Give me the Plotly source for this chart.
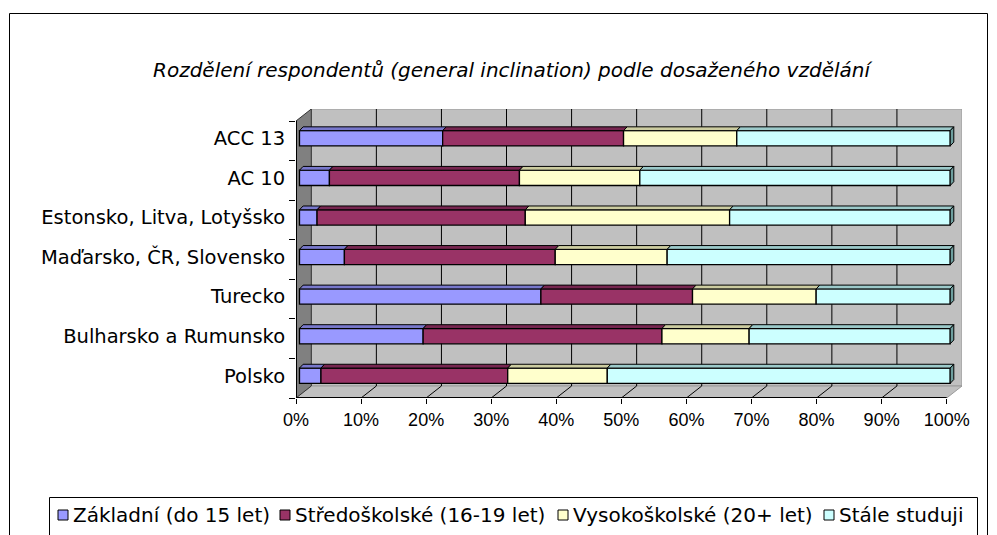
import plotly.graph_objects as go

# ---------------- data ----------------
categories = ["ACC 13", "AC 10", "Estonsko, Litva, Lotyšsko", "Maďarsko, ČR, Slovensko",
              "Turecko", "Bulharsko a Rumunsko", "Polsko"]
series_names = ["Základní (do 15 let)", "Středoškolské (16-19 let)",
                "Vysokoškolské (20+ let)", "Stále studuji"]
zakladni = [22.0, 4.6, 2.7, 6.9, 37.1, 19.0, 3.3]
stredoskolske = [27.8, 29.2, 32.0, 32.4, 23.3, 36.7, 28.7]
vysokoskolske = [17.4, 18.5, 31.4, 17.2, 19.0, 13.4, 15.3]
stale_studuji = [32.8, 47.7, 33.9, 43.5, 20.6, 30.9, 52.7]
tick_values = [0, 10, 20, 30, 40, 50, 60, 70, 80, 90, 100]
tick_labels = [f"{v}%" for v in tick_values]
title_text = "Rozdělení respondentů (general inclination) podle dosaženého vzdělání"

series_values = [zakladni, stredoskolske, vysokoskolske, stale_studuji]
front_colors = ["#9999FF", "#993366", "#FFFFCC", "#CCFFFF"]
top_colors = ["#7878CC", "#772650", "#CCCCA0", "#9CCACA"]
side_color = "#6E9E9E"

FONT = "DejaVu Sans, sans-serif"
TICKFONT = "Liberation Sans, Arial, sans-serif"

# page body has an 8px margin: work in reference pixels and shift
OFF = 8
W, H = 997 - OFF, 535 - OFF
L_REF, R_REF, T_REF, B_REF = 296, 962, 109, 398
L_PX, R_PX, T_PX, B_PX = L_REF - OFF, R_REF - OFF, T_REF - OFF, B_REF - OFF

n = len(categories)
ypos = [n - 1 - k for k in range(n)]

# 3-D geometry (in data units)
XPX = 6.507            # px per percent
YPX = 39.57            # px per category
DX = (R_REF - (L_REF + 100 * XPX)) / XPX
DY = 12 / YPX
BX = 3.5 / XPX         # bar offset from front
BY = 2.5 / YPX
BW = 15.3 / YPX        # bar thickness
DDX = 3.6 / XPX
DDY = 3.8 / YPX

x_range = [0, 100 + DX]
y_range = [-0.5, n - 0.5 + DY]


def px(x):
    return (x - L_REF) / (R_REF - L_REF)


def py(y):
    return (B_REF - y) / (B_REF - T_REF)


fig = go.Figure()

# ---- stacked bars ----
cum = [0.0] * n
bases = []
for s, vals in enumerate(series_values):
    base = [BX + c for c in cum]
    bases.append(base)
    fig.add_trace(go.Bar(
        y=[yy + BY for yy in ypos], x=vals, base=base, orientation="h",
        width=BW, marker=dict(color=front_colors[s], line=dict(color="black", width=1.3)),
        name=series_names[s], showlegend=False, hoverinfo="x+name"))
    cum = [c + v for c, v in zip(cum, vals)]

# ---- top faces ----
for s, vals in enumerate(series_values):
    xs, ys = [], []
    for k in range(n):
        a = bases[s][k]
        b = a + vals[k]
        y0 = ypos[k] + BY + BW / 2
        xs += [a, b, b + DDX, a + DDX, a, None]
        ys += [y0, y0, y0 + DDY, y0 + DDY, y0, None]
    fig.add_trace(go.Scatter(x=xs, y=ys, mode="lines", fill="toself",
                             fillcolor=top_colors[s], line=dict(color="black", width=1),
                             showlegend=False, hoverinfo="skip"))

# ---- right end faces ----
xs, ys = [], []
for k in range(n):
    b = bases[-1][k] + series_values[-1][k]
    yc = ypos[k] + BY
    xs += [b, b + DDX, b + DDX, b, b, None]
    ys += [yc - BW / 2, yc - BW / 2 + DDY, yc + BW / 2 + DDY, yc + BW / 2, yc - BW / 2, None]
fig.add_trace(go.Scatter(x=xs, y=ys, mode="lines", fill="toself", fillcolor=side_color,
                         line=dict(color="black", width=1), showlegend=False, hoverinfo="skip"))

# ---- front axis lines ----
fig.add_trace(go.Scatter(x=[0, 100], y=[-0.5, -0.5], mode="lines",
                         line=dict(color="black", width=2), showlegend=False, hoverinfo="skip"))
fig.add_trace(go.Scatter(x=[0, 0], y=[-0.5, n - 0.5], mode="lines",
                         line=dict(color="black", width=2), showlegend=False, hoverinfo="skip"))

# dummy trace for category label axis
fig.add_trace(go.Scatter(x=[None], y=[None], yaxis="y2", showlegend=False, hoverinfo="skip"))

shapes = []
# back wall
shapes.append(dict(type="rect", xref="x", yref="y", x0=DX, x1=100 + DX, y0=-0.5 + DY, y1=n - 0.5 + DY,
                   fillcolor="#C0C0C0", line=dict(color="#9A9A9A", width=1), layer="below"))
# floor
shapes.append(dict(type="path", xref="x", yref="y", layer="below",
                   path=f"M0,-0.5 L100,-0.5 L{100 + DX},{-0.5 + DY} L{DX},{-0.5 + DY} Z",
                   fillcolor="#C0C0C0", line=dict(color="#9A9A9A", width=1)))
# side wall
shapes.append(dict(type="path", xref="x", yref="y", layer="below",
                   path=f"M0,-0.5 L0,{n - 0.5} L{DX},{n - 0.5 + DY} L{DX},{-0.5 + DY} Z",
                   fillcolor="#808080", line=dict(color="#333333", width=1)))
# gridlines (back wall + floor)
for v in tick_values[1:-1]:
    shapes.append(dict(type="line", xref="x", yref="y", layer="below", x0=v + DX, x1=v + DX,
                       y0=-0.5 + DY, y1=n - 0.5 + DY, line=dict(color="black", width=1)))
    shapes.append(dict(type="line", xref="x", yref="y", layer="below", x0=v + DX, x1=v,
                       y0=-0.5 + DY, y1=-0.5, line=dict(color="black", width=1)))

# outer border
shapes.append(dict(type="rect", xref="paper", yref="paper", x0=px(9.5), x1=px(987.5), y0=py(13.5), y1=py(560),
                   line=dict(color="black", width=1), fillcolor="rgba(0,0,0,0)"))
# legend box
shapes.append(dict(type="rect", xref="paper", yref="paper", x0=px(49.5), x1=px(977.5), y0=py(497.5), y1=py(560),
                   line=dict(color="black", width=1), fillcolor="white"))

annotations = [dict(text=title_text, xref="paper", yref="paper", x=px(512), y=py(70),
                    xanchor="center", yanchor="middle", showarrow=False,
                    font=dict(family=FONT, size=20, color="black", style="italic"))]

sw_x = [58, 280, 558, 824]
tx_x = [71, 293, 571, 837]
for s in range(4):
    shapes.append(dict(type="rect", xref="paper", yref="paper", x0=px(sw_x[s]), x1=px(sw_x[s] + 10),
                       y0=py(510), y1=py(520), fillcolor=front_colors[s],
                       line=dict(color="black", width=1)))
    annotations.append(dict(text=series_names[s], xref="paper", yref="paper", x=px(tx_x[s]), y=py(515),
                            xanchor="left", yanchor="middle", showarrow=False,
                            font=dict(family=FONT, size=20, color="black")))

fig.update_layout(
    width=W, height=H,
    margin=dict(l=L_PX, r=W - R_PX, t=T_PX, b=H - B_PX, pad=0),
    paper_bgcolor="white", plot_bgcolor="white",
    barmode="overlay",
    showlegend=False,
    font=dict(family=FONT, size=20, color="black"),
    xaxis=dict(range=x_range, tickvals=tick_values, ticktext=tick_labels, ticks="outside",
               ticklen=5, tickcolor="black", showgrid=False, zeroline=False, showline=False,
               tickfont=dict(family=TICKFONT, size=18)),
    yaxis=dict(range=y_range, tickvals=[k - 0.5 for k in range(n + 1)], ticktext=[""] * (n + 1),
               ticks="outside", ticklen=6, tickcolor="black", showgrid=False, zeroline=False,
               showline=False),
    yaxis2=dict(range=y_range, overlaying="y", side="left", tickvals=[yy + BY for yy in ypos],
                ticktext=categories, ticks="outside", ticklen=6, tickcolor="rgba(0,0,0,0)",
                showgrid=False, zeroline=False, showline=False,
                tickfont=dict(family=FONT, size=19.5)),
    shapes=shapes,
    annotations=annotations,
)

fig.write_html("out.html")
